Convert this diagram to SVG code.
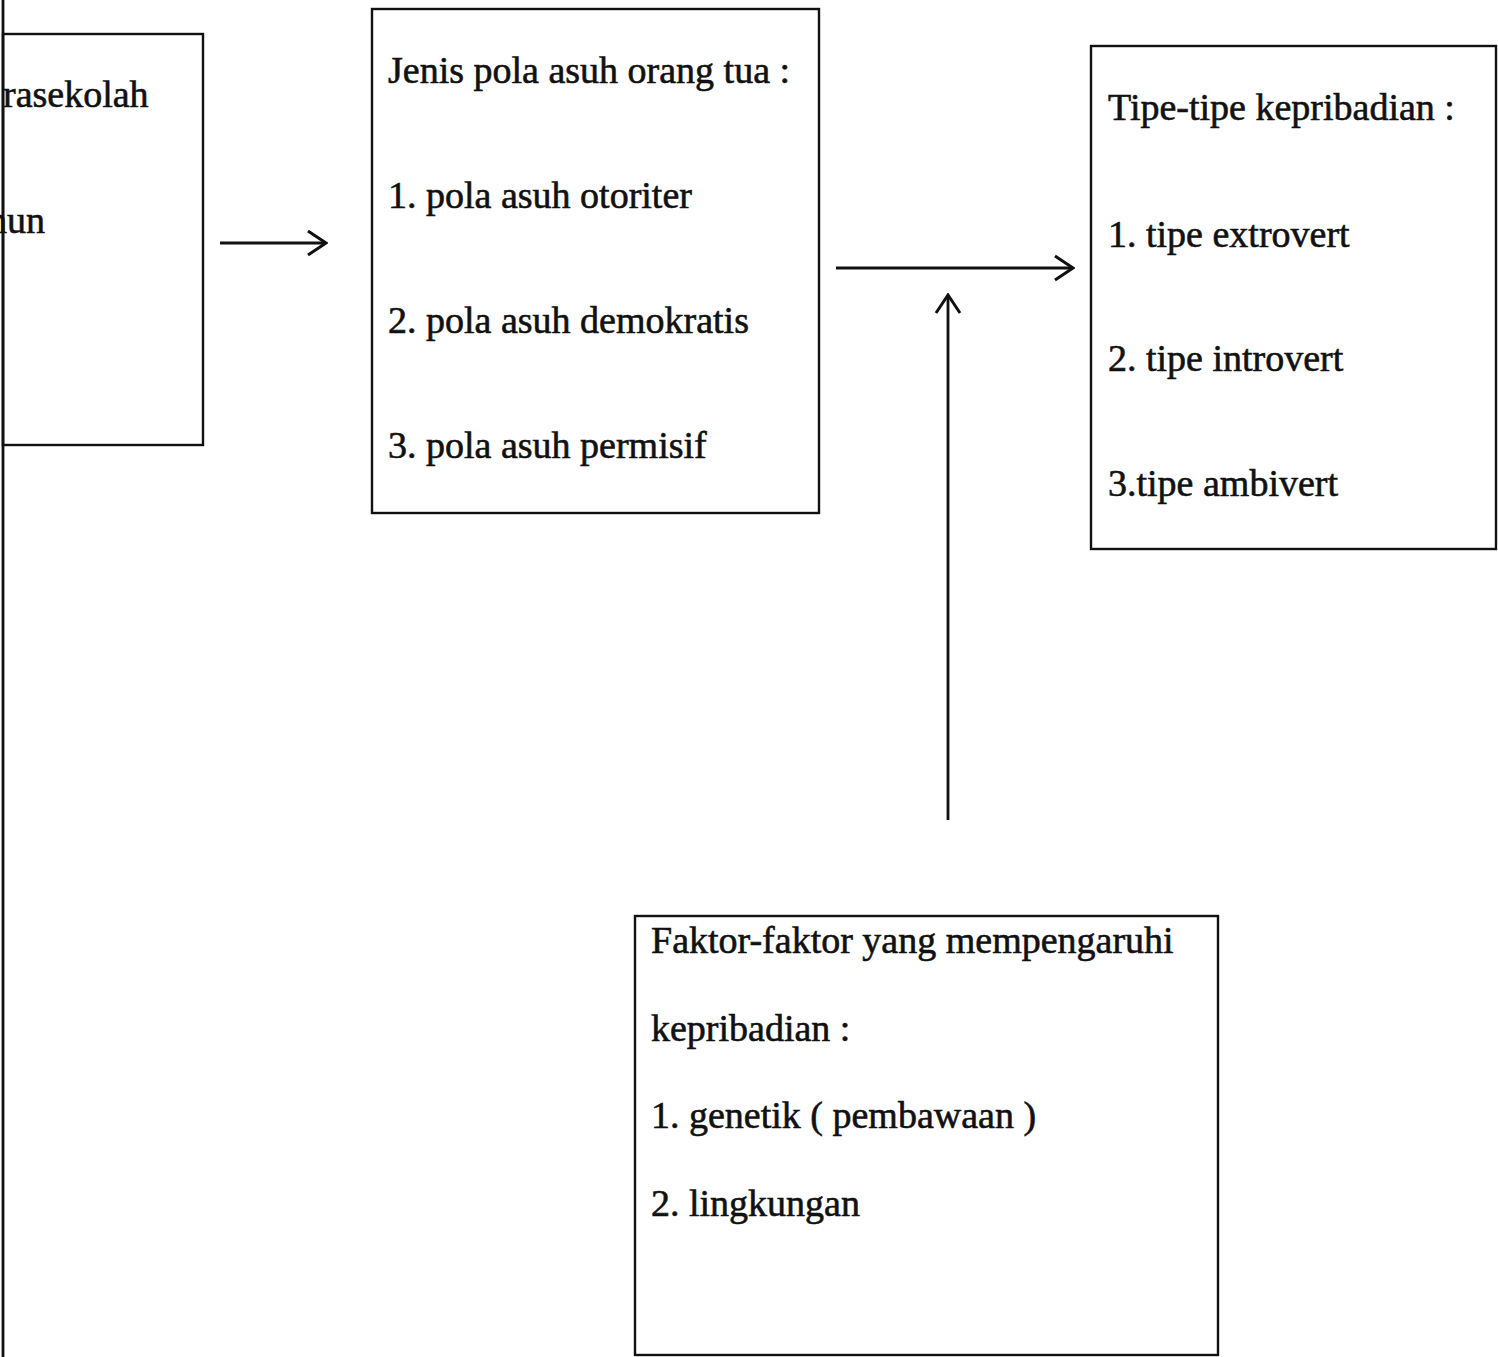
<svg xmlns="http://www.w3.org/2000/svg" width="1498" height="1357" viewBox="0 0 1498 1357">
  <style>
    .box { fill: none; stroke: #111; stroke-width: 2.4; }
    .t { font-family: "Liberation Serif", "Times New Roman", serif; font-size: 38px; fill: #111; stroke: #111; stroke-width: 0.6; }
    .edge { stroke: #111; stroke-width: 2.8; fill: none; }
  </style>
  <defs>
    <marker id="arr" viewBox="0 0 24 28" refX="22" refY="14" markerWidth="24" markerHeight="28" markerUnits="userSpaceOnUse" orient="auto">
      <path d="M4,2 L22,14 L4,26" fill="none" stroke="#111" stroke-width="3"/>
    </marker>
  </defs>
  <rect width="1498" height="1357" fill="#fff"/>

  <g id="frame-left">
    <line x1="3" y1="0" x2="3" y2="1357" class="edge"/>
  </g>

  <g id="node-anak">
    <rect x="3" y="34" width="200" height="411" class="box"/>
    <text x="3" y="107" class="t">rasekolah</text>
    <text x="-12" y="233" class="t">hun</text>
  </g>

  <g id="node-pola-asuh">
    <rect x="372" y="9" width="447" height="504" class="box"/>
    <text x="388" y="83" class="t">Jenis pola asuh orang tua :</text>
    <text x="388" y="208" class="t">1. pola asuh otoriter</text>
    <text x="388" y="333" class="t">2. pola asuh demokratis</text>
    <text x="388" y="458" class="t">3. pola asuh permisif</text>
  </g>

  <g id="node-tipe">
    <rect x="1091" y="46" width="405" height="503" class="box"/>
    <text x="1108" y="120" class="t">Tipe-tipe kepribadian :</text>
    <text x="1108" y="247" class="t">1. tipe extrovert</text>
    <text x="1108" y="371" class="t">2. tipe introvert</text>
    <text x="1108" y="496" class="t">3.tipe ambivert</text>
  </g>

  <g id="node-faktor">
    <rect x="635" y="916" width="583" height="439" class="box"/>
    <text x="651" y="953" class="t">Faktor-faktor yang mempengaruhi</text>
    <text x="651" y="1041" class="t">kepribadian :</text>
    <text x="651" y="1128" class="t">1. genetik ( pembawaan )</text>
    <text x="651" y="1216" class="t">2. lingkungan</text>
  </g>

  <g id="connectors">
    <line x1="220" y1="243" x2="326" y2="243" class="edge" marker-end="url(#arr)"/>
    <line x1="836" y1="268" x2="1073" y2="268" class="edge" marker-end="url(#arr)"/>
    <line x1="948" y1="820" x2="948" y2="295" class="edge" marker-end="url(#arr)"/>
  </g>
</svg>
